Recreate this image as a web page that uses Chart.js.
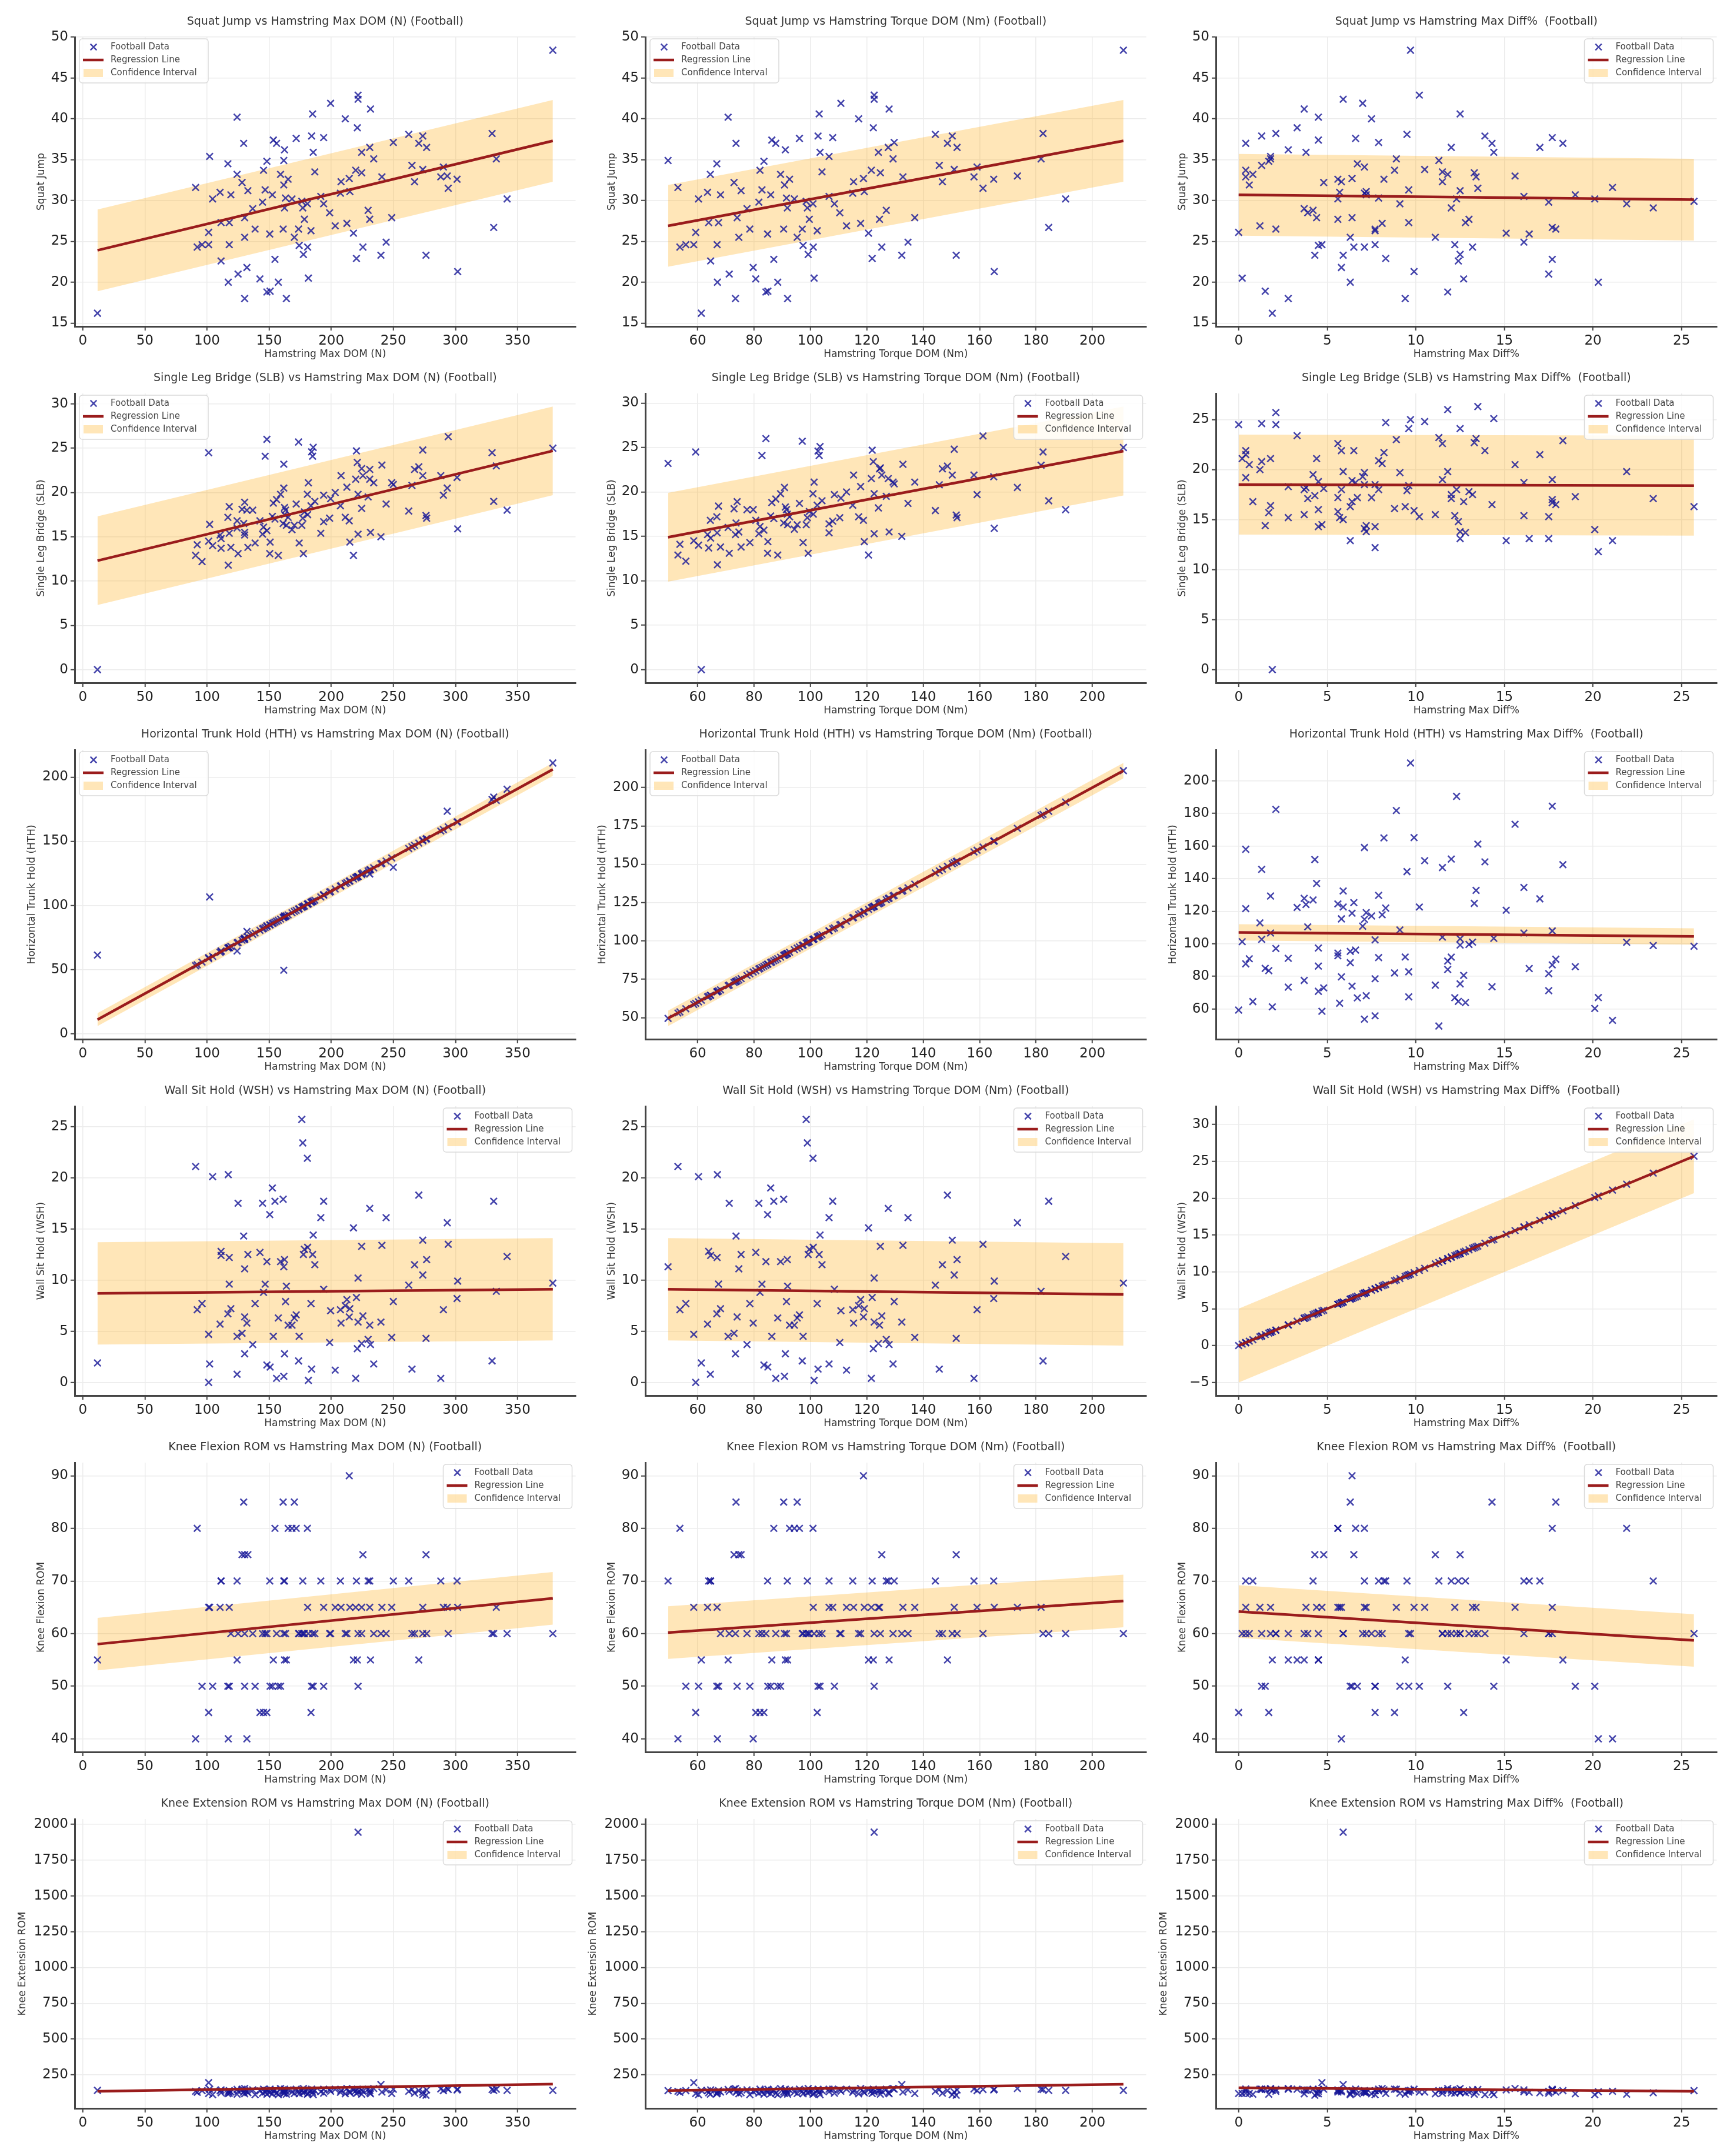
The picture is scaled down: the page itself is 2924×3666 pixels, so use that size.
<!DOCTYPE html>
<html>
<head>
<meta charset="utf-8">
<script src="https://cdn.jsdelivr.net/npm/chart.js@4.4.1/dist/chart.umd.min.js"></script>
<style>
  html, body { margin: 0; padding: 0; background: #fff; overflow: hidden; }
  #wrap { position: relative; width: 2924px; height: 3666px; }
  #wrap canvas { position: absolute; }
</style>
</head>
<body>
<div id="wrap"></div>
<script>
// one entry per athlete, same order in every array
const maxDom = [
  11.8, 90.8, 92.1, 96.0, 101.3, 101.3, 102.1, 104.5, 110.5, 111.3,
  111.3, 116.8, 117.1, 117.9, 117.9, 119.2, 124.2, 124.2, 125.0, 128.2,
  129.5, 130.3, 130.3, 130.3, 132.1, 132.9, 136.8, 138.7, 142.6, 144.7,
  145.5, 146.8, 148.2, 148.2, 150.5, 150.8, 152.6, 153.4, 154.7, 156.0,
  157.4, 159.2, 161.3, 161.8, 161.8, 162.4, 162.4, 163.2, 163.9, 165.3,
  168.4, 170.3, 171.8, 173.7, 174.2, 176.3, 177.1, 177.6, 178.4, 180.8,
  181.0, 181.6, 183.7, 184.2, 185.0, 185.5, 186.8, 191.6, 193.9, 193.9,
  198.7, 199.5, 203.2, 207.4, 207.9, 211.3, 212.6, 214.5, 215.0, 217.9,
  219.7, 220.3, 221.0, 221.6, 221.6, 224.5, 224.5, 225.5, 229.7, 231.0,
  231.0, 231.6, 234.2, 240.0, 240.8, 244.2, 248.7, 250.0, 262.4, 265.0,
  267.1, 270.5, 273.7, 273.7, 276.3, 276.8, 288.2, 290.3, 293.4, 294.2,
  301.3, 301.8, 329.5, 330.8, 332.9, 341.6, 378.4
];
const torqueDom = [
  61.3, 53.0, 53.7, 55.8, 58.6, 59.3, 106.6, 60.3, 63.5, 63.9,
  64.6, 66.8, 67.0, 67.4, 66.9, 68.1, 70.8, 64.5, 71.2, 72.9,
  73.6, 74.0, 74.6, 73.4, 79.7, 75.4, 77.5, 78.5, 80.6, 81.7,
  82.1, 82.8, 83.5, 84.2, 84.8, 84.9, 85.9, 86.3, 87.0, 87.7,
  88.4, 89.4, 90.5, 49.5, 90.8, 91.1, 91.8, 91.5, 91.9, 92.6,
  94.3, 95.3, 96.1, 97.1, 97.4, 98.5, 98.9, 99.2, 99.6, 100.9,
  101.0, 101.3, 102.4, 102.7, 103.1, 103.4, 104.1, 106.6, 107.9, 108.5,
  110.4, 110.8, 112.8, 115.0, 115.3, 117.1, 117.8, 118.8, 119.1, 120.6,
  121.6, 121.9, 122.3, 122.6, 122.6, 124.1, 124.8, 125.3, 126.9, 127.6,
  124.5, 127.9, 129.3, 132.4, 132.8, 134.6, 137.0, 129.7, 144.3, 145.7,
  146.8, 148.6, 150.3, 151.0, 151.7, 152.0, 158.0, 159.1, 173.4, 161.2,
  165.0, 165.2, 182.5, 184.5, 181.8, 190.5, 211.0
];
const maxDiff = [
  1.9, 21.1, 7.1, 7.7, 4.7, 0.0, 1.8, 20.1, 5.7, 12.8,
  12.4, 6.7, 20.3, 9.6, 12.2, 7.2, 4.5, 0.8, 17.5, 4.8,
  14.3, 6.4, 11.1, 2.8, 5.8, 12.5, 3.7, 7.7, 12.7, 17.5,
  8.8, 9.6, 1.7, 11.8, 16.4, 1.5, 19.0, 4.5, 17.7, 0.4,
  6.3, 11.8, 17.9, 11.3, 0.6, 2.8, 12.0, 7.9, 9.4, 5.6,
  5.6, 6.3, 6.6, 2.1, 4.5, 25.7, 23.4, 12.5, 13.0, 21.9,
  13.2, 0.2, 7.7, 1.3, 12.5, 14.4, 11.5, 16.1, 17.7, 9.1,
  3.9, 7.0, 1.2, 7.1, 5.8, 7.5, 8.1, 6.4, 7.2, 15.1,
  0.4, 8.3, 3.3, 10.2, 5.9, 3.8, 13.3, 6.5, 4.2, 17.0,
  5.6, 3.7, 1.8, 5.9, 13.4, 16.1, 4.4, 7.9, 9.5, 1.3,
  11.5, 18.3, 13.9, 10.5, 4.3, 12.0, 0.4, 7.1, 15.6, 13.5,
  8.2, 9.9, 2.1, 17.7, 8.9, 12.3, 9.7
];
const squatJump = [
  16.2, 31.6, 24.3, 24.6, 24.6, 26.1, 35.4, 30.2, 31.0, 27.3,
  22.6, 34.5, 20.0, 27.3, 24.6, 30.7, 40.2, 33.2, 21.0, 32.2,
  37.0, 27.9, 25.5, 18.0, 21.8, 31.2, 29.0, 26.5, 20.4, 29.8,
  33.7, 31.3, 34.8, 18.8, 25.9, 18.9, 30.7, 37.4, 22.8, 37.0,
  20.0, 33.2, 26.5, 34.9, 31.9, 36.2, 29.1, 30.3, 18.0, 32.6,
  30.2, 25.5, 37.6, 26.5, 24.5, 29.9, 29.1, 23.4, 27.7, 29.6,
  24.3, 20.5, 26.3, 37.9, 40.6, 35.9, 33.5, 30.5, 37.7, 29.6,
  28.5, 41.9, 26.9, 30.9, 32.3, 40.0, 27.2, 32.7, 31.1, 26.0,
  33.7, 22.9, 38.9, 42.9, 42.4, 35.9, 33.4, 24.3, 28.8, 36.5,
  27.7, 41.2, 35.1, 23.3, 32.9, 24.9, 27.9, 37.1, 38.1, 34.3,
  32.3, 37.0, 37.9, 33.8, 23.3, 36.5, 32.9, 34.1, 33.0, 31.5,
  32.6, 21.3, 38.2, 26.7, 35.1, 30.2, 48.4
];
const singleLegBridge = [
  0.0, 12.9, 14.1, 12.2, 14.5, 24.5, 16.4, 14.0, 15.2, 13.7,
  14.8, 17.2, 11.8, 18.4, 15.4, 13.8, 16.0, 16.8, 13.1, 18.1,
  16.5, 18.9, 15.5, 15.2, 18.0, 13.8, 18.0, 14.3, 16.8, 15.3,
  16.1, 24.1, 15.7, 26.0, 13.1, 14.4, 17.3, 18.8, 17.0, 19.2,
  12.9, 19.8, 16.5, 23.2, 20.5, 18.3, 17.5, 18.0, 16.3, 17.2,
  15.8, 16.3, 18.7, 25.7, 14.3, 16.3, 17.1, 13.1, 17.8, 19.8,
  17.5, 21.1, 18.5, 24.6, 24.1, 25.1, 19.0, 15.4, 16.7, 19.7,
  17.1, 19.3, 20.0, 18.5, 21.9, 17.2, 20.6, 16.8, 14.4, 12.9,
  21.5, 24.7, 23.4, 15.3, 19.8, 18.2, 22.7, 21.9, 19.5, 21.5,
  22.6, 15.5, 21.1, 15.0, 23.1, 18.7, 21.1, 20.9, 17.9, 20.8,
  22.6, 22.9, 21.9, 24.8, 17.4, 17.1, 21.9, 19.7, 20.5, 26.3,
  21.7, 15.9, 24.5, 19.0, 23.0, 18.0, 25.0
];
// in the source file the HTH column repeats the torque values and WSH repeats Max Diff%
const trunkHold = torqueDom;
const wallSitHold = maxDiff;
const kneeFlexion = [
  55, 40, 80, 50, 65, 45, 65, 50, 65, 70,
  70, 50, 40, 50, 65, 60, 55, 70, 60, 75,
  85, 50, 75, 60, 40, 75, 60, 50, 45, 60,
  45, 60, 45, 60, 70, 50, 50, 55, 80, 60,
  50, 50, 85, 70, 60, 55, 70, 60, 55, 80,
  80, 85, 80, 60, 60, 60, 70, 60, 60, 80,
  65, 60, 45, 50, 60, 50, 60, 70, 65, 50,
  60, 60, 65, 70, 65, 60, 60, 90, 65, 55,
  65, 70, 55, 50, 60, 65, 60, 75, 70, 70,
  65, 55, 60, 60, 65, 60, 65, 70, 70, 60,
  60, 55, 60, 65, 75, 60, 70, 65, 65, 60,
  70, 65, 60, 60, 65, 60, 60
];
const kneeExtension = [
  142, 135, 128, 140, 196, 120, 150, 112, 138, 125,
  145, 118, 132, 140, 122, 130, 148, 115, 135, 150,
  128, 140, 118, 155, 132, 125, 145, 112, 138, 122,
  150, 130, 115, 142, 128, 150, 118, 135, 145, 122,
  112, 155, 130, 140, 120, 150, 125, 138, 115, 145,
  130, 120, 150, 135, 118, 140, 125, 155, 130, 115,
  145, 120, 138, 150, 128, 112, 140, 132, 150, 122,
  145, 135, 150, 128, 140, 118, 155, 132, 125, 145,
  138, 120, 150, 130, 1945, 142, 115, 135, 150, 125,
  140, 118, 155, 182, 130, 145, 120, 150, 135, 148,
  122, 140, 112, 130, 108, 145, 152, 140, 155, 148,
  145, 150, 148, 142, 150, 142, 142
];

const rowNames = ['Squat Jump', 'Single Leg Bridge (SLB)', 'Horizontal Trunk Hold (HTH)',
  'Wall Sit Hold (WSH)', 'Knee Flexion ROM', 'Knee Extension ROM'];
const rowValues = [squatJump, singleLegBridge, trunkHold, wallSitHold, kneeFlexion, kneeExtension];
const colNames = ['Hamstring Max DOM (N)', 'Hamstring Torque DOM (Nm)', 'Hamstring Max Diff%'];
const colTitleNames = ['Hamstring Max DOM (N)', 'Hamstring Torque DOM (Nm)', 'Hamstring Max Diff% '];
const colValues = [maxDom, torqueDom, maxDiff];

// regression line read at the smallest and largest x of each panel
const fitStart = [
  [23.9, 26.9, 30.7], [12.3, 14.9, 18.5], [11, 49.5, 107],
  [8.7, 9.1, 0], [58.0, 60.2, 64.2], [135, 140, 160]
];
const fitEnd = [
  [37.3, 37.3, 30.1], [24.7, 24.6, 18.4], [206, 211, 104.5],
  [9.1, 8.6, 25.7], [66.7, 66.2, 58.7], [186, 185, 135]
];
const ciHalfWidth = 5;

const xTickStep = [50, 20, 5];
const yTickStep = [[5, 5, 5], [5, 5, 5], [50, 25, 20], [5, 5, 5], [10, 10, 10], [250, 250, 250]];
const legendSide = [
  ['left', 'left', 'right'], ['left', 'right', 'right'], ['left', 'left', 'right'],
  ['right', 'right', 'right'], ['right', 'right', 'right'], ['right', 'right', 'right']
];

const FONT = '"DejaVu Sans", sans-serif';
const MARK = 'rgba(20, 20, 150, 0.8)';
const LINE = '#9a1c1c';
const BAND = 'rgba(255, 165, 0, 0.28)';
const yTitlePad = [60, 60, 44, 60, 60, 28];

Chart.defaults.font.family = FONT;

function paddedRange(vals) {
  const lo = Math.min(...vals), hi = Math.max(...vals), m = (hi - lo) * 0.05;
  return [lo - m, hi + m];
}
function tickList(min, max, step) {
  const out = [];
  for (let v = Math.ceil(min / step) * step; v <= max + 1e-9; v += step) out.push({ value: +v.toFixed(6) });
  return out;
}
const fmt = v => String(v).replace('-', '\u2212');

// title centred over the plot area, like the matplotlib axes title
const panelTitle = {
  id: 'panelTitle',
  afterDraw(chart, args, opts) {
    const { ctx, chartArea: a } = chart;
    ctx.save();
    ctx.font = '19px ' + FONT;
    ctx.fillStyle = '#333';
    ctx.textAlign = 'center';
    ctx.textBaseline = 'middle';
    ctx.fillText(opts.text, (a.left + a.right) / 2, 37);
    ctx.restore();
  }
};

const panelLegend = {
  id: 'panelLegend',
  afterDatasetsDraw(chart, args, opts) {
    const ctx = chart.ctx, a = chart.chartArea;
    const w = 219, h = 75;
    const x = opts.side === 'left' ? a.left + 8 : a.right - 6 - w;
    const y = a.top + 3;
    ctx.save();
    ctx.beginPath();
    ctx.roundRect(x, y, w, h, 5);
    ctx.fillStyle = 'rgba(255,255,255,0.85)';
    ctx.fill();
    ctx.strokeStyle = '#dadada';
    ctx.lineWidth = 1.5;
    ctx.stroke();
    const rows = [y + 14, y + 36, y + 58];
    ctx.strokeStyle = MARK;
    ctx.lineWidth = 2.5;
    Chart.helpers.drawPoint(ctx, { pointStyle: 'crossRot', radius: 7.5, borderWidth: 2.5 }, x + 24, rows[0]);
    ctx.beginPath();
    ctx.strokeStyle = LINE;
    ctx.lineWidth = 4.5;
    ctx.moveTo(x + 6, rows[1]);
    ctx.lineTo(x + 41, rows[1]);
    ctx.stroke();
    ctx.fillStyle = BAND;
    ctx.fillRect(x + 7, rows[2] - 7, 33, 14);
    ctx.fillStyle = '#444';
    ctx.font = '15px ' + FONT;
    ctx.textBaseline = 'middle';
    ctx.fillText('Football Data', x + 53, rows[0]);
    ctx.fillText('Regression Line', x + 53, rows[1]);
    ctx.fillText('Confidence Interval', x + 53, rows[2]);
    ctx.restore();
  }
};

const wrap = document.getElementById('wrap');
const CW = 989, CH = 626;

rowNames.forEach((yName, r) => {
  colNames.forEach((xName, c) => {
    const xs = colValues[c], ys = rowValues[r];
    const xLo = Math.min(...xs), xHi = Math.max(...xs);
    const f0 = fitStart[r][c], f1 = fitEnd[r][c];
    const [xmin, xmax] = paddedRange(xs);
    const [ymin, ymax] = paddedRange(ys.concat([f0 - ciHalfWidth, f0 + ciHalfWidth, f1 - ciHalfWidth, f1 + ciHalfWidth]));

    const canvas = document.createElement('canvas');
    canvas.width = CW; canvas.height = CH;
    canvas.style.left = (c * 970) + 'px';
    canvas.style.top = (r * 606) + 'px';
    canvas.style.width = CW + 'px';
    canvas.style.height = CH + 'px';
    wrap.appendChild(canvas);

    new Chart(canvas, {
      type: 'scatter',
      data: {
        datasets: [
          {
            type: 'line', showLine: true, order: 3,
            data: [{ x: xLo, y: f0 - ciHalfWidth }, { x: xHi, y: f1 - ciHalfWidth }],
            borderWidth: 0, pointRadius: 0, fill: false
          },
          {
            type: 'line', showLine: true, order: 2,
            data: [{ x: xLo, y: f0 + ciHalfWidth }, { x: xHi, y: f1 + ciHalfWidth }],
            borderWidth: 0, pointRadius: 0, fill: '-1', backgroundColor: BAND
          },
          {
            label: 'Football Data', order: 1,
            data: xs.map((v, i) => ({ x: v, y: ys[i] })),
            pointStyle: 'crossRot', pointRadius: 8, pointBorderWidth: 2.5,
            borderColor: MARK, pointBorderColor: MARK, backgroundColor: MARK
          },
          {
            type: 'line', showLine: true, order: 0, label: 'Regression Line',
            data: [{ x: xLo, y: f0 }, { x: xHi, y: f1 }],
            borderColor: LINE, borderWidth: 4.5, pointRadius: 0, fill: false
          }
        ]
      },
      options: {
        responsive: false,
        devicePixelRatio: 1,
        animation: false,
        events: [],
        layout: { padding: { left: 0, right: 10, top: 63, bottom: 0 } },
        plugins: {
          legend: { display: false },
          tooltip: { enabled: false },
          title: { display: false },
          panelTitle: { text: yName + ' vs ' + colTitleNames[c] + ' (Football)' },
          panelLegend: { side: legendSide[r][c] }
        },
        scales: {
          x: {
            type: 'linear', min: xmin, max: xmax,
            afterBuildTicks: s => { s.ticks = tickList(xmin, xmax, xTickStep[c]); },
            afterFit: s => { s.height = CH - 555; },
            ticks: { callback: fmt, color: '#222', font: { size: 23 }, autoSkip: false, maxRotation: 0, padding: 4 },
            grid: { color: '#ececec', lineWidth: 1.5, tickColor: '#444', tickLength: 7, tickWidth: 2 },
            border: { color: '#444', width: 3 },
            title: { display: true, text: xName, color: '#333', font: { size: 17 }, padding: { top: 0, bottom: 13 } }
          },
          y: {
            type: 'linear', min: ymin, max: ymax,
            afterBuildTicks: s => { s.ticks = tickList(ymin, ymax, yTickStep[r][c]); },
            afterFit: s => { s.width = 127; },
            ticks: { callback: fmt, color: '#222', font: { size: 23 }, autoSkip: false, padding: 4 },
            grid: { color: '#ececec', lineWidth: 1.5, tickColor: '#444', tickLength: 7, tickWidth: 2 },
            border: { color: '#444', width: 3 },
            title: { display: true, text: yName, color: '#333', font: { size: 17 }, padding: { top: yTitlePad[r], bottom: 0 } }
          }
        }
      },
      plugins: [panelTitle, panelLegend]
    });
  });
});
</script>
</body>
</html>
